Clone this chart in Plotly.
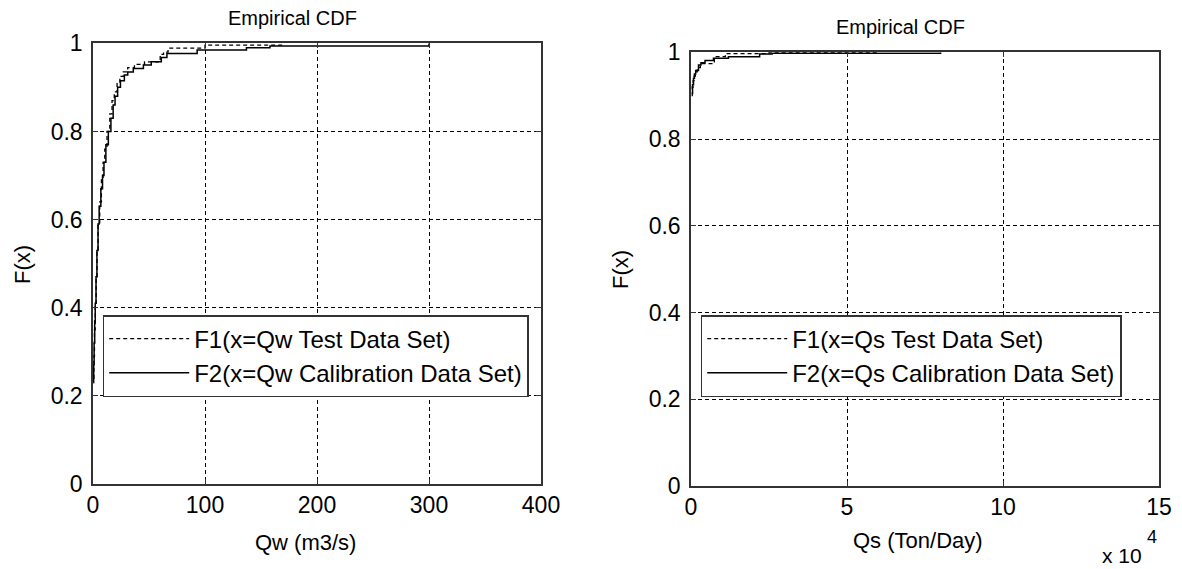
import plotly.graph_objects as go

# ---------------- data ----------------
# Left panel: Qw (m3/s) empirical CDF
qw_test_x = [0.3, 0.8, 1.3, 2.0, 2.8, 3.6, 4.5, 6.0, 7.5, 9.0, 10.5, 12.5, 15.0, 17.0,
             19.0, 21.5, 24.0, 27.0, 31.0, 37.0, 46.0, 60.0, 63.0, 67.0, 100.0, 170.0]
qw_test_F = [0.24, 0.29, 0.35, 0.41, 0.47, 0.53, 0.59, 0.64, 0.69, 0.73, 0.76, 0.80, 0.84, 0.87,
             0.89, 0.91, 0.925, 0.935, 0.945, 0.952, 0.958, 0.975, 0.98, 0.989, 0.996, 1.0]

qw_cal_x = [0.3, 0.6, 1.0, 1.5, 2.0, 2.7, 3.5, 4.5, 5.5, 7.0, 8.5, 9.8, 11.5, 13.7, 16.0,
            18.0, 19.7, 22.0, 24.5, 28.0, 31.0, 36.0, 45.0, 52.0, 61.0, 66.0, 93.0, 137.0,
            158.0, 300.0]
qw_cal_F = [0.23, 0.27, 0.32, 0.37, 0.41, 0.47, 0.53, 0.59, 0.63, 0.67, 0.70, 0.73, 0.77, 0.80,
            0.83, 0.86, 0.88, 0.90, 0.915, 0.928, 0.935, 0.943, 0.951, 0.958, 0.968, 0.977,
            0.985, 0.99, 0.994, 1.0]

# Right panel: Qs (Ton/Day) empirical CDF
qs_test_x = [200, 400, 700, 1000, 1400, 2000, 3000, 7500, 11000, 25000, 60000]
qs_test_F = [0.90, 0.92, 0.935, 0.945, 0.955, 0.965, 0.974, 0.99, 0.997, 0.999, 1.0]

qs_cal_x = [300, 500, 800, 1100, 1500, 2400, 3200, 4500, 7200, 12000, 22000, 26000, 80000]
qs_cal_F = [0.905, 0.925, 0.94, 0.95, 0.958, 0.971, 0.976, 0.981, 0.986, 0.99, 0.996, 0.998, 1.0]

y_ticks = [0, 0.2, 0.4, 0.6, 0.8, 1]
y_ticktext = ["0", "0.2", "0.4", "0.6", "0.8", "1"]
qw_ticks = [0, 100, 200, 300, 400]
qs_ticks = [0, 50000, 100000, 150000]
qs_ticktext = ["0", "5", "10", "15"]

# ---------------- figure ----------------
OFF = 8  # page body margin
W, H = 1182 - OFF, 569 - OFF
FONT = "Liberation Sans, Arial, sans-serif"
DASH = "4px,3px"

fig = go.Figure()
fig.add_trace(go.Scatter(x=qw_test_x, y=qw_test_F, mode="lines", line_shape="hv",
                         line=dict(color="black", width=1.3, dash=DASH),
                         name="F1(x=Qw Test Data Set)", xaxis="x", yaxis="y", legend="legend"))
fig.add_trace(go.Scatter(x=qw_cal_x, y=qw_cal_F, mode="lines", line_shape="hv",
                         line=dict(color="black", width=1.5),
                         name="F2(x=Qw Calibration Data Set)", xaxis="x", yaxis="y", legend="legend"))
fig.add_trace(go.Scatter(x=qs_test_x, y=qs_test_F, mode="lines", line_shape="hv",
                         line=dict(color="black", width=1.3, dash=DASH),
                         name="F1(x=Qs Test Data Set)", xaxis="x2", yaxis="y2", legend="legend2"))
fig.add_trace(go.Scatter(x=qs_cal_x, y=qs_cal_F, mode="lines", line_shape="hv",
                         line=dict(color="black", width=1.5),
                         name="F2(x=Qs Calibration Data Set)", xaxis="x2", yaxis="y2", legend="legend2"))

axis_common = dict(showline=True, linecolor="#333333", linewidth=1.5, mirror="ticks",
                   ticks="inside", ticklen=5, tickcolor="#333333", tickwidth=1,
                   showgrid=True, gridcolor="black", gridwidth=1, griddash=DASH,
                   zeroline=False, automargin=False,
                   tickfont=dict(family=FONT, size=23, color="black"))

def px_x(p):
    return (p - OFF) / W

def px_y(p):
    return 1 - (p - OFF) / H

legend_common = dict(xanchor="left", yanchor="top", bgcolor="white",
                     bordercolor="#333333", borderwidth=1.5,
                     font=dict(family=FONT, size=24, color="black"), itemwidth=80)

fig.update_layout(
    width=W, height=H,
    margin=dict(l=0, r=0, t=0, b=0),
    paper_bgcolor="white", plot_bgcolor="white",
    font=dict(family=FONT, color="black"),
    xaxis=dict(domain=[px_x(93), px_x(541)], range=[0, 400], tickvals=qw_ticks,
               anchor="y", **axis_common),
    yaxis=dict(domain=[px_y(484), px_y(43.3)], range=[0, 1], tickvals=y_ticks,
               ticktext=y_ticktext, anchor="x", ticklabelstandoff=4, **axis_common),
    xaxis2=dict(domain=[px_x(691), px_x(1159)], range=[0, 150000], tickvals=qs_ticks,
                ticktext=qs_ticktext, anchor="y2", **axis_common),
    yaxis2=dict(domain=[px_y(486), px_y(52.3)], range=[0, 1], tickvals=y_ticks,
                ticktext=y_ticktext, anchor="x2", ticklabelstandoff=4, **axis_common),
    legend=dict(x=px_x(102.7), y=px_y(315), **legend_common),
    legend2=dict(x=px_x(700.7), y=px_y(315), **legend_common),
    showlegend=True,
)

ann = [
    dict(text="Empirical CDF", x=px_x(292), y=px_y(18), size=20, angle=0),
    dict(text="Empirical CDF", x=px_x(900), y=px_y(27), size=20, angle=0),
    dict(text="Qw (m3/s)", x=px_x(306), y=px_y(542), size=22, angle=0),
    dict(text="Qs (Ton/Day)", x=px_x(918), y=px_y(540), size=22, angle=0),
    dict(text="F(x)", x=px_x(22), y=px_y(265), size=22, angle=-90),
    dict(text="F(x)", x=px_x(620), y=px_y(270), size=22, angle=-90),
    dict(text="x 10", x=px_x(1122), y=px_y(555), size=21, angle=0),
    dict(text="4", x=px_x(1152), y=px_y(537), size=18, angle=0),
]
for a in ann:
    fig.add_annotation(text=a["text"], x=a["x"], y=a["y"], xref="paper", yref="paper",
                       xanchor="center", yanchor="middle", showarrow=False, textangle=a["angle"],
                       font=dict(family=FONT, size=a["size"], color="black"))

fig.write_html("out.html")
